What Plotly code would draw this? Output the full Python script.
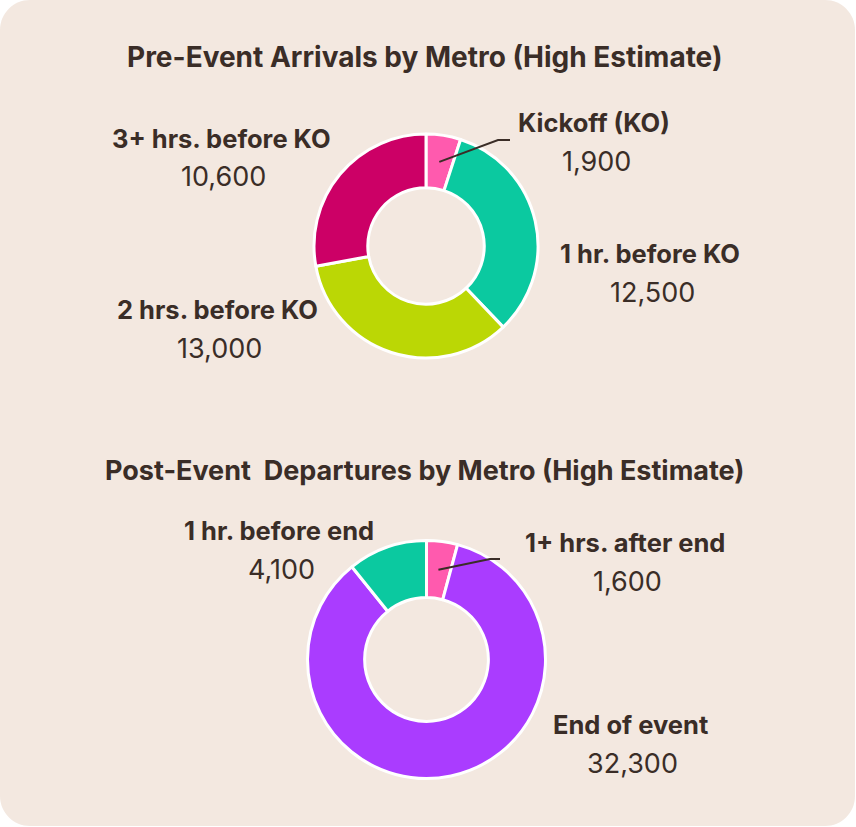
import math
import plotly.graph_objects as go

W, H = 856, 827

# ---- data ----
pre_labels = ["Kickoff (KO)", "1 hr. before KO", "2 hrs. before KO", "3+ hrs. before KO"]
pre_values = [1900, 12500, 13000, 10600]
pre_colors = ["#FF5AAE", "#0BC9A0", "#BBD705", "#CC0066"]

post_labels = ["1+ hrs. after end", "End of event", "1 hr. before end"]
post_values = [1600, 32300, 4100]
post_colors = ["#FF5AAE", "#AA3CFF", "#0BC9A0"]

titles = ["Pre-Event Arrivals by Metro (High Estimate)",
          "Post-Event  Departures by Metro (High Estimate)"]

TXT = "#3A2D27"
BG = "#F3E8E0"
FONT = "Inter, Liberation Sans, Arial, sans-serif"


def px(x):
    return x / W


def py(y):
    return 1 - y / H


# pie geometry (pixel layout)
pies = [
    dict(labels=pre_labels, values=pre_values, colors=pre_colors, cx=426, cy=246, r=112,
         title_y=57, title_size=28,
         label_pos=[(594, 122), (650, 254), (217, 309), (221, 138)],
         leader=[(498, 140), (510, 140)]),
    dict(labels=post_labels, values=post_values, colors=post_colors, cx=426.5, cy=659.5, r=119,
         title_y=470, title_size=27,
         label_pos=[(625, 542), (630, 724), (279, 530)],
         leader=[(490, 559), (500, 559)]),
]
HOLE = 0.52

fig = go.Figure()
annotations = []
shapes = []

# rounded background
rx, ry = 30 / W, 30 / H
x0, x1, y0, y1 = 0.0, 855 / W, 1 / H, 1.0
k = 0.5523
path = (f"M {x0+rx},{y0} L {x1-rx},{y0} "
        f"C {x1-rx+k*rx},{y0} {x1},{y0+ry-k*ry} {x1},{y0+ry} "
        f"L {x1},{y1-ry} "
        f"C {x1},{y1-ry+k*ry} {x1-rx+k*rx},{y1} {x1-rx},{y1} "
        f"L {x0+rx},{y1} "
        f"C {x0+rx-k*rx},{y1} {x0},{y1-ry+k*ry} {x0},{y1-ry} "
        f"L {x0},{y0+ry} "
        f"C {x0},{y0+ry-k*ry} {x0+rx-k*rx},{y0} {x0+rx},{y0} Z")
shapes.append(dict(type="path", path=path, xref="paper", yref="paper",
                   fillcolor=BG, line=dict(width=0), layer="below"))

for i, p in enumerate(pies):
    cx, cy, r = p["cx"], p["cy"], p["r"]
    fig.add_trace(go.Pie(
        labels=p["labels"], values=p["values"],
        marker=dict(colors=p["colors"], line=dict(color="white", width=3)),
        hole=HOLE, sort=False, direction="clockwise", rotation=0,
        textinfo="none", hoverinfo="label+value", showlegend=False,
        domain=dict(x=[px(cx - r), px(cx + r)], y=[py(cy + r), py(cy - r)]),
    ))
    # title
    annotations.append(dict(text=f"<b>{titles[i]}</b>", x=px(425), y=py(p["title_y"]),
                            xref="paper", yref="paper", showarrow=False,
                            xanchor="center", yanchor="middle",
                            font=dict(family=FONT, size=p["title_size"], color=TXT)))
    total = sum(p["values"])
    cum = 0
    for j, (lab, val) in enumerate(zip(p["labels"], p["values"])):
        lx, ly = p["label_pos"][j]
        annotations.append(dict(text=f"<b>{lab}</b>", x=px(lx), y=py(ly),
                                xref="paper", yref="paper", showarrow=False,
                                xanchor="center", yanchor="middle",
                                font=dict(family=FONT, size=25.5, color=TXT)))
        annotations.append(dict(text=f"{val:,}", x=px(lx + 2), y=py(ly + 39),
                                xref="paper", yref="paper", showarrow=False,
                                xanchor="center", yanchor="middle",
                                font=dict(family=FONT, size=27, color=TXT)))
        mid = (cum + val / 2) / total * 2 * math.pi
        cum += val
        if j == 0:
            rm = r * (1 + HOLE) / 2
            sx = cx + rm * math.sin(mid)
            sy = cy - rm * math.cos(mid)
            (ex, ey), (fx, fy) = p["leader"]
            lp = f"M {px(sx)},{py(sy)} L {px(ex)},{py(ey)} L {px(fx)},{py(fy)}"
            shapes.append(dict(type="path", path=lp, xref="paper", yref="paper",
                               line=dict(color=TXT, width=2), layer="above"))

fig.update_layout(
    width=W, height=H, autosize=False,
    margin=dict(l=0, r=0, t=0, b=0),
    paper_bgcolor="white", plot_bgcolor="white",
    shapes=shapes, annotations=annotations,
)

fig.write_html("out.html", config={"displayModeBar": False},
               post_script="document.body.style.margin='0';document.body.style.overflow='hidden';")
